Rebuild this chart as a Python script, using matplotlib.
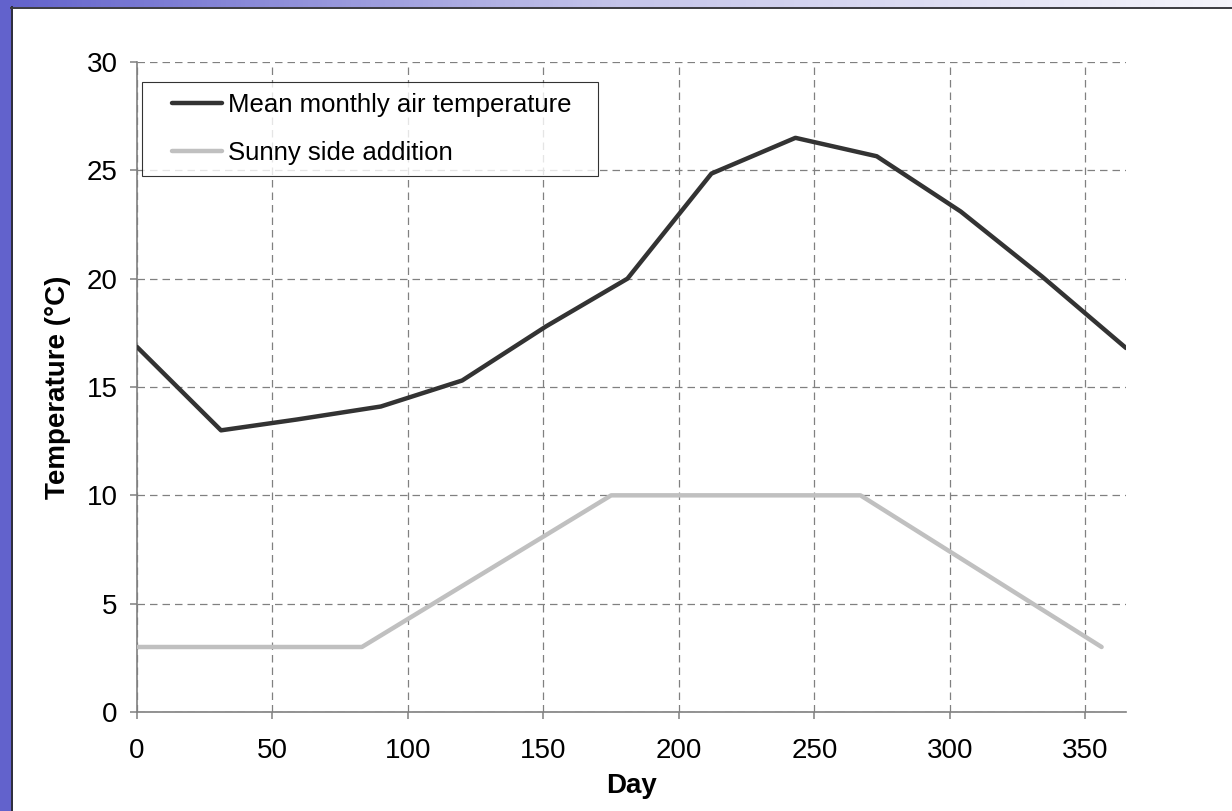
import matplotlib
matplotlib.use("Agg")
import matplotlib.pyplot as plt
import numpy as np
from matplotlib.colors import LinearSegmentedColormap
from matplotlib.legend_handler import HandlerLine2D

plt.rcParams['font.family'] = ['Liberation Sans', 'DejaVu Sans']

# === DATA ===
temp_days = [0, 31, 59, 90, 120, 151, 181, 212, 243, 273, 304, 334, 365]
temp_vals = [16.85, 13.0, 13.5, 14.1, 15.3, 17.8, 20.0, 24.85, 26.5, 25.65, 23.1, 20.1, 16.8]

sun_days = [0, 83, 175, 267, 356]
sun_vals = [3, 3, 10, 10, 3]

labels = ["Mean monthly air temperature", "Sunny side addition"]
xticks = [0, 50, 100, 150, 200, 250, 300, 350]
yticks = [0, 5, 10, 15, 20, 25, 30]


# legend line drawn only on the right part of the handle box (Excel style)
class ShortHandle(HandlerLine2D):
    def get_xdata(self, legend, xdescent, ydescent, width, height, fontsize):
        x = np.array([-xdescent + 0.27 * width, -xdescent + width])
        return x, x


W, H = 1232, 811
fig = plt.figure(figsize=(W / 100, H / 100), dpi=100)
fig.patch.set_facecolor('white')

# === FRAME (left band + top gradient band) ===
left_ax = fig.add_axes([0, 0, 11 / W, 1])
left_ax.axis('off')
left_ax.add_patch(plt.Rectangle((0, 0), 1, 1, color='#6262cc', transform=left_ax.transAxes))

top_ax = fig.add_axes([0, 1 - 7 / H, 1, 7 / H])
grad = np.linspace(0, 1, 256).reshape(1, -1)
cmap = LinearSegmentedColormap.from_list('frame', ['#6262cc', '#c4c4ea', '#f4f4fb'])
top_ax.imshow(grad, aspect='auto', cmap=cmap, extent=[0, 1, 0, 1])
top_ax.axis('off')

fig.add_artist(plt.Line2D([11.5 / W, 11.5 / W], [0, 1 - 7 / H], color='#2a2a3a', lw=1.4))
fig.add_artist(plt.Line2D([11 / W, 1], [1 - 7.5 / H, 1 - 7.5 / H], color='#3a3a40', lw=1.4))

# === MAIN AXES ===
x0, x1 = 137, 1126
y0, y1 = 712, 62
ax = fig.add_axes([x0 / W, 1 - y0 / H, (x1 - x0) / W, (y0 - y1) / H])

ax.plot(temp_days, temp_vals, color='#333333', lw=3.2, solid_capstyle='round',
        solid_joinstyle='round', label=labels[0], zorder=3)
ax.plot(sun_days, sun_vals, color='#c0c0c0', lw=3.2, solid_capstyle='round',
        solid_joinstyle='round', label=labels[1], zorder=3)

ax.set_xlim(0, 365)
ax.set_ylim(0, 30)
ax.set_xticks(xticks)
ax.set_yticks(yticks)
ax.grid(True, color='#808080', linestyle=(0, (6, 4)), lw=0.9)

for s in ['top', 'right']:
    ax.spines[s].set_visible(False)
for s in ['left', 'bottom']:
    ax.spines[s].set_color('#808080')
    ax.spines[s].set_linewidth(1.2)

ax.tick_params(axis='both', direction='out', length=5, width=1.1, color='#808080',
               labelsize=20)
ax.tick_params(axis='y', pad=9)
ax.tick_params(axis='x', pad=14)

ax.set_xlabel('Day', fontsize=20, fontweight='bold', labelpad=6.5)
ax.set_ylabel('Temperature (°C)', fontsize=20, fontweight='bold', labelpad=11)

pw, ph = x1 - x0, y0 - y1
leg = ax.legend(loc='upper left',
                bbox_to_anchor=(5 / pw, 1 - 119 / ph, 456 / pw, 99 / ph),
                mode='expand', fontsize=18.5, frameon=True, fancybox=False,
                handlelength=2.7, handletextpad=0.23, borderpad=0.42,
                labelspacing=0.95, borderaxespad=0,
                handler_map={plt.Line2D: ShortHandle()})
leg.get_frame().set_edgecolor('#000000')
leg.get_frame().set_linewidth(0.8)

fig.savefig('out.png', dpi=100)
